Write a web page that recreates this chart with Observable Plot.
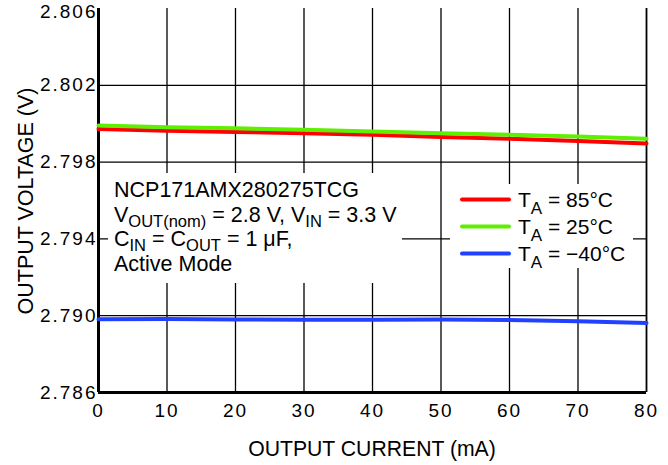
<!DOCTYPE html>
<html>
<head>
<meta charset="utf-8">
<script src="https://cdn.jsdelivr.net/npm/d3@7"></script>
<script src="https://cdn.jsdelivr.net/npm/@observablehq/plot@0.6"></script>
<style>
  html, body { margin: 0; padding: 0; background: #fff; }
  svg { font-family: "Liberation Sans", Arial, Helvetica, sans-serif; }
</style>
</head>
<body>
<div id="chart"></div>
<script>
// ---- data ----
const current = [0, 10, 20, 30, 40, 50, 60, 70, 80];           // mA
const v85  = [2.79972, 2.79963, 2.79957, 2.79950, 2.79942, 2.79931, 2.79922, 2.79910, 2.79897];
const v25  = [2.79991, 2.79982, 2.79976, 2.79969, 2.79959, 2.79950, 2.79942, 2.79933, 2.79922];
const vm40 = [2.78982, 2.78983, 2.78980, 2.78979, 2.78979, 2.78980, 2.78977, 2.78971, 2.78962];
const xTicks = [0, 10, 20, 30, 40, 50, 60, 70, 80];
const yTicks = [2.786, 2.790, 2.794, 2.798, 2.802, 2.806];
const seriesNames = ["T_A = 85°C", "T_A = 25°C", "T_A = −40°C"];
const seriesColors = ["#ff0000", "#5ef000", "#2140ff"];
const seriesValues = [v85, v25, vm40];

const rows = [];
seriesValues.forEach((vals, s) => vals.forEach((v, i) => rows.push({series: seriesNames[s], current: current[i], v})));

const FONT = '"Liberation Sans", Arial, Helvetica, sans-serif';

const chart = Plot.plot({
  width: 668,
  height: 465,
  marginLeft: 98,
  marginRight: 22,
  marginTop: 8,
  marginBottom: 73,
  x: {domain: [0, 80]},
  y: {domain: [2.786, 2.806]},
  color: {domain: seriesNames, range: seriesColors},
  style: {fontFamily: FONT, background: "#fff", color: "#000", overflow: "visible"},
  marks: [
    Plot.ruleX(xTicks.filter(d => d > 0 && d < 80), {stroke: "#000", strokeWidth: 1.3}),
    Plot.ruleX([80], {stroke: "#000", strokeWidth: 1.8}),
    Plot.ruleY(yTicks.filter(d => d > 2.786 && d < 2.806), {stroke: "#000", strokeWidth: 1.3}),
    Plot.ruleX([0], {stroke: "#000", strokeWidth: 3}),
    Plot.ruleY([2.786], {stroke: "#000", strokeWidth: 3}),
    Plot.axisX({ticks: xTicks, tickSize: 0, tickPadding: 11, fontSize: 19, label: null, tickFormat: d => String(d)}),
    Plot.axisY({ticks: yTicks, tickSize: 0, tickPadding: 1, fontSize: 19, label: null, tickFormat: d3.format(".3f")}),
    Plot.line(rows, {x: "current", y: "v", z: "series", stroke: "series", strokeWidth: 4, strokeLinejoin: "round"})
  ]
});

document.getElementById("chart").appendChild(chart);
const svg = d3.select(chart);
svg.selectAll('[aria-label$="tick label"]').style("letter-spacing", "2px");
// nudge the topmost y tick label down slightly so it is not clipped
svg.selectAll('[aria-label="y-axis tick label"] text')
  .filter(function() { return this.textContent === "2.806"; })
  .attr("dy", "0.18em");

// ---- layout for annotation/legend (pixel layout, not data) ----
const annBox = {x: 108, y: 173, w: 294, h: 110};
const legBox = {x: 450, y: 184, w: 183, h: 84};

svg.append("rect").attr("x", annBox.x).attr("y", annBox.y).attr("width", annBox.w).attr("height", annBox.h).attr("fill", "#fff");
svg.append("rect").attr("x", legBox.x).attr("y", legBox.y).attr("width", legBox.w).attr("height", legBox.h).attr("fill", "#fff");

function rich(x, y, parts, size, subSize, subShift) {
  const t = svg.append("text").attr("x", x).attr("y", y).attr("text-anchor", "start")
    .attr("font-family", FONT).attr("font-size", size).attr("fill", "#000");
  let down = false;
  parts.forEach(p => {
    const isSub = Array.isArray(p);
    const txt = isSub ? p[0] : p;
    const ts = t.append("tspan").text(txt);
    if (isSub && !down) { ts.attr("dy", subShift).attr("font-size", subSize); down = true; }
    else if (isSub) { ts.attr("font-size", subSize); }
    else if (!isSub && down) { ts.attr("dy", -subShift); down = false; }
  });
  return t;
}

// annotation
const annX = 114;
rich(annX, 197, ["NCP171AMX280275TCG"], 21.5, 16.5, 5);
rich(annX, 221.5, ["V", ["OUT(nom)"], " = 2.8 V, V", ["IN"], " = 3.3 V"], 21.5, 16.5, 5);
rich(annX, 246, ["C", ["IN"], " = C", ["OUT"], " = 1 μF,"], 21.5, 16.5, 5);
rich(annX, 270.5, ["Active Mode"], 21.5, 16.5, 5);

// legend
const legendLabels = [["T", ["A"], " = 85°C"], ["T", ["A"], " = 25°C"], ["T", ["A"], " = −40°C"]];
seriesNames.forEach((name, i) => {
  const cy = 199.5 + i * 27;
  svg.append("line").attr("x1", 462).attr("x2", 509).attr("y1", cy).attr("y2", cy)
    .attr("stroke", seriesColors[i]).attr("stroke-width", 4).attr("stroke-linecap", "round");
  rich(518, cy + 7.5, legendLabels[i], 21, 17, 6.5);
});

// axis titles
svg.append("text").attr("x", 372).attr("y", 456).attr("text-anchor", "middle")
  .attr("font-family", FONT).attr("font-size", 21.2).attr("fill", "#000").text("OUTPUT CURRENT (mA)");
svg.append("text").attr("transform", "translate(33,201) rotate(-90)").attr("text-anchor", "middle")
  .attr("font-family", FONT).attr("font-size", 21.5).attr("fill", "#000").text("OUTPUT VOLTAGE (V)");
</script>
</body>
</html>
